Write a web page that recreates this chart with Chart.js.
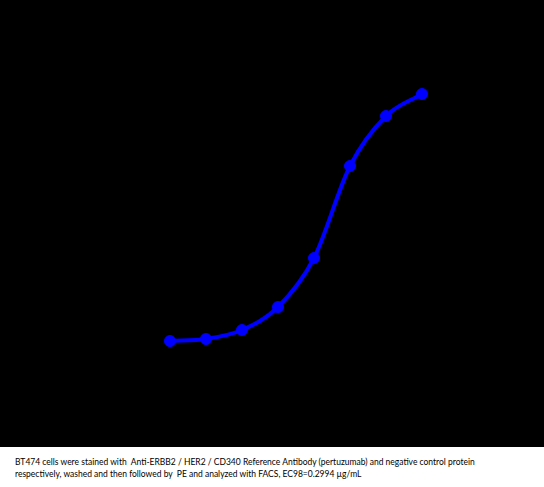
<!DOCTYPE html>
<html>
<head>
<meta charset="utf-8">
<script src="https://cdn.jsdelivr.net/npm/chart.js@4"></script>
<style>
  html, body { margin: 0; padding: 0; background: #fff; }
  #wrap { width: 544px; height: 447px; background: #000; }
  .caption {
    font-family: "Lato", "Open Sans", sans-serif;
    font-size: 10px;
    line-height: 12px;
    color: #000;
    padding: 8px 0 0 15px;
    white-space: nowrap;
  }
  .caption div { transform: scaleX(0.85); transform-origin: left; }
</style>
</head>
<body>
<div id="wrap"><canvas id="curve" width="544" height="447"></canvas></div>
<div class="caption">
  <div>BT474 cells were stained with&nbsp; Anti-ERBB2 / HER2 / CD340 Reference Antibody (pertuzumab) and negative control protein</div>
  <div>respectively, washed and then followed by&nbsp; PE and analyzed with FACS, EC98=0.2994 µg/mL</div>
</div>
<script>
// dilution steps (index) and signal
const doses = [0, 1, 2, 3, 4, 5, 6, 7];
const signal = [106, 108, 117, 140, 189, 281, 331, 353];

new Chart("curve", {
  type: "line",
  data: {
    datasets: [
      {
        data: doses.map((d, i) => ({ x: d, y: signal[i] })),
        borderColor: "#0000ff",
        backgroundColor: "#0000ff",
        borderWidth: 4,
        pointRadius: 5.5,
        pointBorderWidth: 1,
        cubicInterpolationMode: "monotone",
        fill: false,
      },
    ],
  },
  options: {
    responsive: false,
    animation: false,
    layout: { padding: 0, autoPadding: false },
    plugins: { legend: { display: false }, tooltip: { enabled: false } },
    scales: {
      x: { type: "linear", display: false, min: -170 / 36, max: (544 - 170) / 36 },
      y: { type: "linear", display: false, min: 0, max: 447 },
    },
  },
});
</script>
</body>
</html>
